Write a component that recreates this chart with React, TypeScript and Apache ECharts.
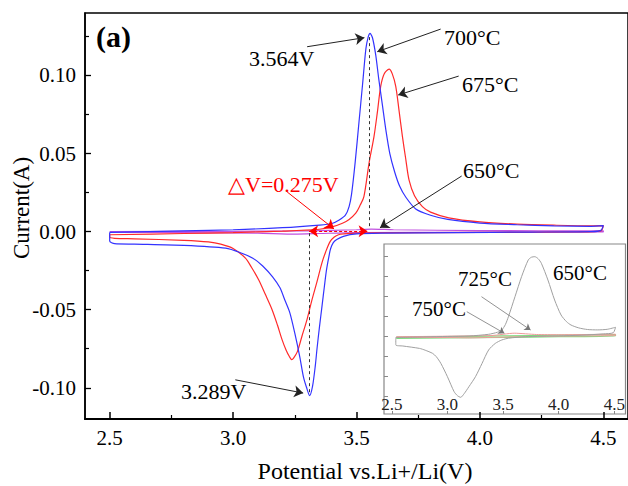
import React, { useEffect, useRef } from 'react';
import * as echarts from 'echarts';

const FONT = 'Liberation Serif, Times New Roman, serif';

// Axis ticks
const xTicks = [2.5, 3.0, 3.5, 4.0, 4.5];
const xMinorTicks = [2.75, 3.25, 3.75, 4.25];
const yTicks = [-0.1, -0.05, 0, 0.05, 0.1];
const yMinorTicks = [-0.075, -0.025, 0.025, 0.075, 0.125];
const insetYTicks = [-0.06, -0.04, -0.02, 0, 0.02, 0.04, 0.06, 0.08];

// 700°C (blue) : potential (V) and current (A)
const v700 = [2.5, 2.8, 3.0, 3.2, 3.35, 3.40, 3.43, 3.455, 3.47, 3.48, 3.495, 3.51, 3.525, 3.538, 3.548, 3.555, 3.565, 3.578, 3.59, 3.605, 3.62, 3.635, 3.655, 3.675, 3.70, 3.74, 3.80, 3.87, 4.0, 4.15, 4.3, 4.45, 4.5,
  4.49, 4.45, 4.2, 3.9, 3.6, 3.5, 3.447, 3.42, 3.406, 3.395, 3.387, 3.378, 3.37, 3.36, 3.35, 3.34, 3.333, 3.322, 3.31, 3.298, 3.285, 3.27, 3.25, 3.23, 3.21, 3.19, 3.16, 3.12, 3.08, 3.03, 2.97, 2.8, 2.6, 2.52, 2.5, 2.5];
const i700 = [-0.0005, 0.0005, 0.0012, 0.0025, 0.0042, 0.0052, 0.0075, 0.0105, 0.016, 0.024, 0.045, 0.07, 0.095, 0.117, 0.125, 0.127, 0.124, 0.113, 0.098, 0.081, 0.064, 0.050, 0.038, 0.029, 0.022, 0.0145, 0.0105, 0.0078, 0.0055, 0.0044, 0.0037, 0.0034, 0.0038,
  0.0008, 0.0, -0.0003, -0.0006, -0.001, -0.0015, -0.003, -0.005, -0.007, -0.011, -0.017, -0.025, -0.035, -0.048, -0.061, -0.075, -0.086, -0.099, -0.105, -0.100, -0.093, -0.080, -0.065, -0.052, -0.044, -0.036, -0.029, -0.022, -0.017, -0.0135, -0.0106, -0.0088, -0.008, -0.0077, -0.006, -0.0005];

// 675°C (red)
const v675 = [2.5, 2.8, 3.0, 3.2, 3.35, 3.40, 3.443, 3.47, 3.497, 3.515, 3.53, 3.551, 3.571, 3.585, 3.598, 3.612, 3.632, 3.645, 3.659, 3.672, 3.686, 3.70, 3.713, 3.735, 3.767, 3.80, 3.874, 4.0, 4.15, 4.3, 4.45, 4.5,
  4.49, 4.4, 4.0, 3.6, 3.5, 3.45, 3.427, 3.41, 3.393, 3.375, 3.36, 3.34, 3.319, 3.30, 3.279, 3.26, 3.245, 3.238, 3.228, 3.215, 3.198, 3.18, 3.158, 3.13, 3.104, 3.075, 3.05, 3.0, 2.95, 2.9, 2.8, 2.6, 2.52, 2.5, 2.5];
const i675 = [-0.002, -0.0012, -0.0006, 0.0003, 0.0015, 0.003, 0.0054, 0.0078, 0.0118, 0.017, 0.0224, 0.044, 0.061, 0.077, 0.093, 0.101, 0.104, 0.101, 0.093, 0.078, 0.061, 0.046, 0.033, 0.023, 0.016, 0.0125, 0.0088, 0.0062, 0.0048, 0.0041, 0.0037, 0.0038,
  0.0005, -0.0002, -0.0005, -0.0008, -0.001, -0.0015, -0.002, -0.0035, -0.0064, -0.013, -0.020, -0.032, -0.044, -0.056, -0.067, -0.077, -0.081, -0.082, -0.080, -0.076, -0.069, -0.060, -0.050, -0.040, -0.031, -0.023, -0.017, -0.0108, -0.0080, -0.0066, -0.0056, -0.0046, -0.0043, -0.0035, -0.002];

// 650°C in main plot (nearly flat)
const v650 = [2.5, 3.0, 3.3, 3.5, 3.56, 3.65, 4.0, 4.5, 4.5, 4.0, 3.5, 3.35, 3.25, 3.1, 2.8, 2.5, 2.5];
const i650 = [0.0, 0.0002, 0.0005, 0.0012, 0.0016, 0.0012, 0.0006, 0.0005, -0.0002, -0.0004, -0.0006, -0.0012, -0.0016, -0.001, -0.0006, -0.0004, 0.0];

// Inset: 650°C (grey), 725°C (pink), 750°C (green) in inset units
const vIn650 = [2.536, 2.8, 3.0, 3.193, 3.37, 3.45, 3.488, 3.52, 3.548, 3.607, 3.666, 3.726, 3.755, 3.785, 3.815, 3.844, 3.903, 3.963, 4.021, 4.07, 4.11, 4.18, 4.258, 4.35, 4.436, 4.51,
  4.49, 4.4, 4.2, 4.0, 3.7, 3.55, 3.488, 3.43, 3.37, 3.311, 3.252, 3.193, 3.15, 3.119, 3.09, 3.06, 3.0, 2.941, 2.9, 2.867, 2.8, 2.749, 2.6, 2.536, 2.536];
const iIn650 = [-0.0008, -0.0002, 0.0003, 0.0007, 0.0024, 0.0045, 0.0067, 0.012, 0.02, 0.04, 0.06, 0.0767, 0.0795, 0.080, 0.078, 0.0734, 0.0567, 0.0367, 0.0217, 0.015, 0.0117, 0.0088, 0.0072, 0.0068, 0.0074, 0.0094,
  0.004, 0.0028, 0.0015, 0.0008, 0.0, -0.0015, -0.0033, -0.0067, -0.0133, -0.0267, -0.04, -0.05, -0.057, -0.0606, -0.059, -0.055, -0.04, -0.0267, -0.020, -0.0167, -0.0135, -0.0117, -0.0093, -0.0083, -0.0008];
const vIn725 = [2.54, 3.0, 3.4, 3.6, 3.8, 4.0, 4.51, 4.51, 4.0, 3.5, 3.2, 3.0, 2.54];
const iIn725 = [0.0, 0.0005, 0.0012, 0.0035, 0.0022, 0.002, 0.0025, 0.0012, 0.0006, -0.0004, -0.0012, -0.0008, -0.0008];
const vIn750 = [2.54, 3.0, 3.5, 4.0, 4.51, 4.51, 4.0, 3.5, 3.0, 2.54];
const iIn750 = [-0.0005, 0.0, 0.0008, 0.0015, 0.0022, 0.0008, 0.0, -0.0008, -0.0013, -0.0018];

const zip = (a: number[], b: number[]) => a.map((v, k) => [v, b[k]]);

export default function App() {
  const ref = useRef<HTMLDivElement>(null);
  useEffect(() => {
    if (!ref.current) return;
    const chart = echarts.init(ref.current, undefined, { renderer: 'svg' });
    const txt = (text: string, x: number, y: number, size: number, extra: any = {}) => ({
      type: 'text', x, y, z: 100,
      style: { text, fontFamily: FONT, fontSize: size, fontWeight: extra.bold ? 'bold' : 'normal', fill: extra.fill || '#000', textAlign: extra.align || 'left', textVerticalAlign: 'middle' },
      rotation: extra.rotation || 0,
    });
    const arrow = (a: number[], b: number[], color = '#222') => [
      { coord: a, lineStyle: { color, width: 1, type: 'solid' } },
      { coord: b },
    ];
    const option: any = {
      animation: false,
      backgroundColor: '#fff',
      textStyle: { fontFamily: FONT },
      grid: [
        { left: 85, top: 13, width: 545, height: 406, show: true, borderColor: '#000', borderWidth: 1.5, backgroundColor: 'transparent' },
        { left: 384, top: 244, width: 246, height: 170, show: true, borderColor: '#888', borderWidth: 1.2, backgroundColor: '#fff' },
      ],
      xAxis: [
        {
          gridIndex: 0, type: 'value', min: 2.4, max: 4.6, position: 'bottom',
          axisLine: { onZero: false, lineStyle: { color: '#000', width: 2 } },
          axisTick: { inside: true, length: 7, customValues: xTicks, lineStyle: { color: '#000', width: 1.5 } },
          axisLabel: { customValues: xTicks, formatter: (v: number) => v.toFixed(1), fontSize: 21, color: '#000', fontFamily: FONT, margin: 8 },
          splitLine: { show: false },
        },
        {
          gridIndex: 0, type: 'value', min: 2.4, max: 4.6, position: 'bottom',
          axisLine: { show: false, onZero: false },
          axisTick: { inside: true, length: 4, customValues: xMinorTicks, lineStyle: { color: '#000', width: 1.2 } },
          axisLabel: { show: false }, splitLine: { show: false },
        },
        {
          gridIndex: 1, type: 'value', min: 2.43, max: 4.6, position: 'bottom',
          axisLine: { show: false, onZero: false },
          axisTick: { inside: true, length: 3, customValues: xTicks, lineStyle: { color: '#888', width: 1 } },
          axisLabel: { inside: true, customValues: xTicks, formatter: (v: number) => v.toFixed(1), fontSize: 17, color: '#222', fontFamily: FONT, margin: 1 },
          splitLine: { show: false },
        },
      ],
      yAxis: [
        {
          gridIndex: 0, type: 'value', min: -0.12, max: 0.14,
          axisLine: { show: true, onZero: false, lineStyle: { color: '#000', width: 1.5 } },
          axisTick: { show: true, inside: true, length: 6, customValues: yTicks, lineStyle: { color: '#000', width: 1.3 } },
          axisLabel: { customValues: yTicks, formatter: (v: number) => v.toFixed(2), fontSize: 21, color: '#000', fontFamily: FONT, margin: 9 },
          splitLine: { show: false },
        },
        {
          gridIndex: 0, type: 'value', min: -0.12, max: 0.14, position: 'left',
          axisLine: { show: false, onZero: false },
          axisTick: { show: true, inside: true, length: 4, customValues: yMinorTicks, lineStyle: { color: '#000', width: 1.2 } },
          axisLabel: { show: false }, splitLine: { show: false },
        },
        {
          gridIndex: 1, type: 'value', min: -0.0773, max: 0.0927,
          axisLine: { show: false, onZero: false },
          axisTick: { show: true, inside: true, length: 4, customValues: insetYTicks, lineStyle: { color: '#888', width: 1 } },
          axisLabel: { show: false }, splitLine: { show: false },
        },
      ],
      series: [
        {
          name: '650°C', type: 'line', xAxisIndex: 0, yAxisIndex: 0, data: zip(v650, i650),
          showSymbol: false, symbol: 'none', smooth: 0.2, lineStyle: { color: '#c050e0', width: 1.2 },
        },
        {
          name: '675°C', type: 'line', xAxisIndex: 0, yAxisIndex: 0, data: zip(v675, i675),
          showSymbol: false, symbol: 'none', smooth: 0.3, lineStyle: { color: '#ff2a2a', width: 1.2 },
        },
        {
          name: '700°C', type: 'line', xAxisIndex: 0, yAxisIndex: 0, data: zip(v700, i700),
          showSymbol: false, symbol: 'none', smooth: 0.25, lineStyle: { color: '#3333ff', width: 1.2 },
          markLine: {
            silent: true, animation: false, symbol: ['none', 'arrow'], symbolSize: 9, label: { show: false },
            data: [
              [{ coord: [3.551, 0.0035], symbol: 'none', lineStyle: { color: '#333', width: 1, type: [3, 3] } }, { coord: [3.551, 0.126], symbol: 'none' }],
              [{ coord: [3.31, -0.001], symbol: 'none', lineStyle: { color: '#333', width: 1, type: [3, 3] } }, { coord: [3.31, -0.104], symbol: 'none' }],
              [{ coord: [3.308, 0.0003], symbol: 'arrow', lineStyle: { color: '#ff0000', width: 1, type: [3, 2] } }, { coord: [3.545, 0.0003], symbol: 'arrow' }],
              arrow([3.300, 0.1184], [3.532, 0.1242]),
              arrow([3.841, 0.1297], [3.584, 0.1152]),
              arrow([3.914, 0.0996], [3.669, 0.0875]),
              arrow([3.926, 0.0356], [3.595, 0.0024]),
              arrow([3.219, 0.0254], [3.409, 0.0017], '#ff0000'),
              arrow([3.009, -0.0949], [3.284, -0.1034]),
            ],
          },
        },
        {
          name: 'inset 750°C', type: 'line', xAxisIndex: 2, yAxisIndex: 2, data: zip(vIn750, iIn750),
          showSymbol: false, symbol: 'none', smooth: 0.2, lineStyle: { color: '#7fdc7f', width: 1.2 },
        },
        {
          name: 'inset 725°C', type: 'line', xAxisIndex: 2, yAxisIndex: 2, data: zip(vIn725, iIn725),
          showSymbol: false, symbol: 'none', smooth: 0.2, lineStyle: { color: '#ee9a9a', width: 1 },
        },
        {
          name: 'inset 650°C', type: 'line', xAxisIndex: 2, yAxisIndex: 2, data: zip(vIn650, iIn650),
          showSymbol: false, symbol: 'none', smooth: 0.25, lineStyle: { color: '#a0a0a0', width: 1 },
          markLine: {
            silent: true, animation: false, symbol: ['none', 'arrow'], symbolSize: 6, label: { show: false },
            data: [
              [{ coord: [3.306, 0.040], lineStyle: { color: '#777', width: 0.8, type: 'solid' } }, { coord: [3.747, 0.0067] }],
              [{ coord: [3.174, 0.025], lineStyle: { color: '#777', width: 0.8, type: 'solid' } }, { coord: [3.512, 0.0034] }],
            ],
          },
        },
      ],
      graphic: [
        txt('(a)', 96, 36, 30, { bold: true }),
        txt('3.564V', 249, 58, 22),
        txt('700°C', 444, 37, 22),
        txt('675°C', 462, 84, 22),
        txt('650°C', 463, 170, 22),
        txt('△V=0.275V', 228, 184, 22, { fill: '#ff0000' }),
        txt('3.289V', 181, 391, 22),
        txt('725°C', 458, 279, 21),
        txt('650°C', 553, 273, 21),
        txt('750°C', 412, 309, 21),
        txt('Potential vs.Li+/Li(V)', 365, 471, 24, { align: 'center' }),
        txt('Current(A)', 21, 208, 23, { align: 'center', rotation: Math.PI / 2 }),
      ],
    };
    chart.setOption(option);
    return () => chart.dispose();
  }, []);
  return <div ref={ref} style={{ position: 'absolute', left: 0, top: 0, width: 628, height: 486 }} />;
}
